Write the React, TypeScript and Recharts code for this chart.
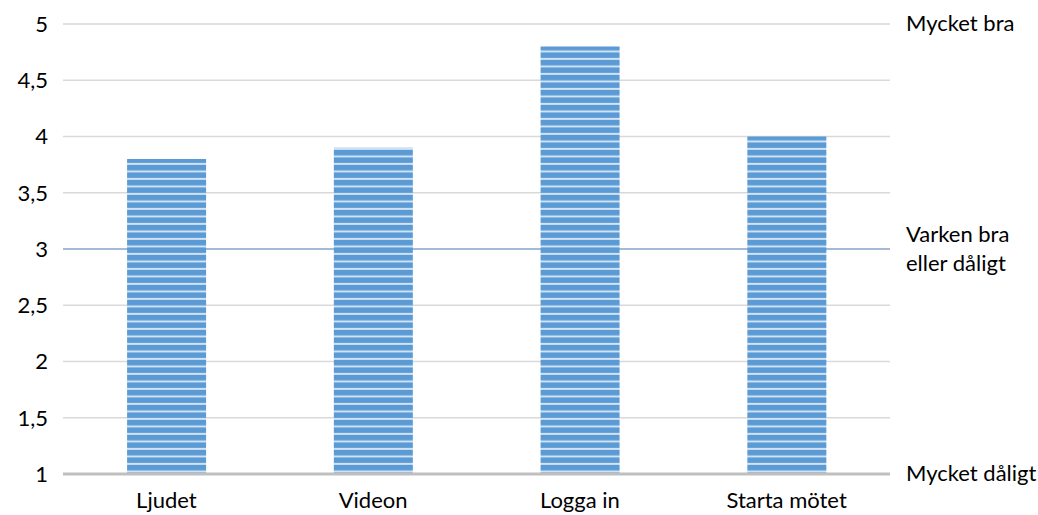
import { BarChart, Bar, XAxis, YAxis, CartesianGrid, ReferenceLine } from 'recharts';

const categories = ['Ljudet', 'Videon', 'Logga in', 'Starta mötet'];
const scores = [3.8, 3.9, 4.8, 4.0];
const yTicks = [1, 1.5, 2, 2.5, 3, 3.5, 4, 4.5, 5];
const scaleTicks = [1, 3, 5];
const scaleLabels: Record<number, string[]> = {
  1: ['Mycket dåligt'],
  3: ['Varken bra', 'eller dåligt'],
  5: ['Mycket bra'],
};
const NEUTRAL = 3;

const data = categories.map((name, i) => ({ name, value: scores[i] }));
const FONT = 'Lato, Calibri, sans-serif';
const FS = 22;

// verbal scale to the right of the plot, left aligned
function scaleLabel(lines: string[]) {
  return (props: any) => {
    const vb = props.viewBox || {};
    const x = vb.x + vb.width + 16;
    const lh = 29;
    const y0 = vb.y - ((lines.length - 1) * lh) / 2 - 2;
    return (
      <text x={x} y={y0} fill="#000" fontSize={FS} fontFamily={FONT} dominantBaseline="central">
        {lines.map((l, i) => (
          <tspan key={i} x={x} y={y0 + i * lh}>{l}</tspan>
        ))}
      </text>
    );
  };
}

// grid lines: the neutral level gets the blue line, drawn behind the bars
function GridLine(props: any) {
  const { x1, x2, y1, y2, index } = props;
  const mid = index === yTicks.indexOf(NEUTRAL);
  return <line x1={x1} x2={x2} y1={y1} y2={y2} stroke={mid ? '#4a78b0' : '#d9d9d9'} strokeWidth={mid ? 1.2 : 1.3} />;
}

export default function App() {
  return (
    <div style={{ position: 'absolute', left: 0, top: 0, width: 1038, height: 515, background: '#fff' }}>
      <svg width={0} height={0} style={{ position: 'absolute' }}>
        <defs>
          <pattern id="stripes" width={8} height={7.5} patternUnits="userSpaceOnUse">
            <rect width={8} height={7.5} fill="#5B9BD5" />
            <rect y={5.5} width={8} height={1.8} fill="#dde9f6" />
          </pattern>
        </defs>
      </svg>
      <BarChart
        width={1038}
        height={515}
        data={data}
        margin={{ top: 24, right: 148, bottom: 0, left: 0 }}
        barCategoryGap="31%"
      >
        <CartesianGrid vertical={false} horizontal={(p: any) => <GridLine key={p.key} {...p} />} />
        <XAxis
          dataKey="name"
          height={41}
          tickLine={false}
          axisLine={{ stroke: '#bfbfbf', strokeWidth: 3 }}
          tick={{ fill: '#000', fontSize: FS, fontFamily: FONT }}
          tickMargin={12}
          interval={0}
        />
        <YAxis
          width={63}
          domain={[1, 5]}
          ticks={yTicks}
          interval={0}
          axisLine={false}
          tickLine={false}
          tickFormatter={(v: number) => String(v).replace('.', ',')}
          tick={{ fill: '#000', fontSize: FS, fontFamily: FONT }}
          tickMargin={9}
        />
        {scaleTicks.map((t) => (
          <ReferenceLine key={t} y={t} stroke="none" label={scaleLabel(scaleLabels[t])} />
        ))}
        <Bar dataKey="value" fill="url(#stripes)" isAnimationActive={false} />
      </BarChart>
    </div>
  );
}
